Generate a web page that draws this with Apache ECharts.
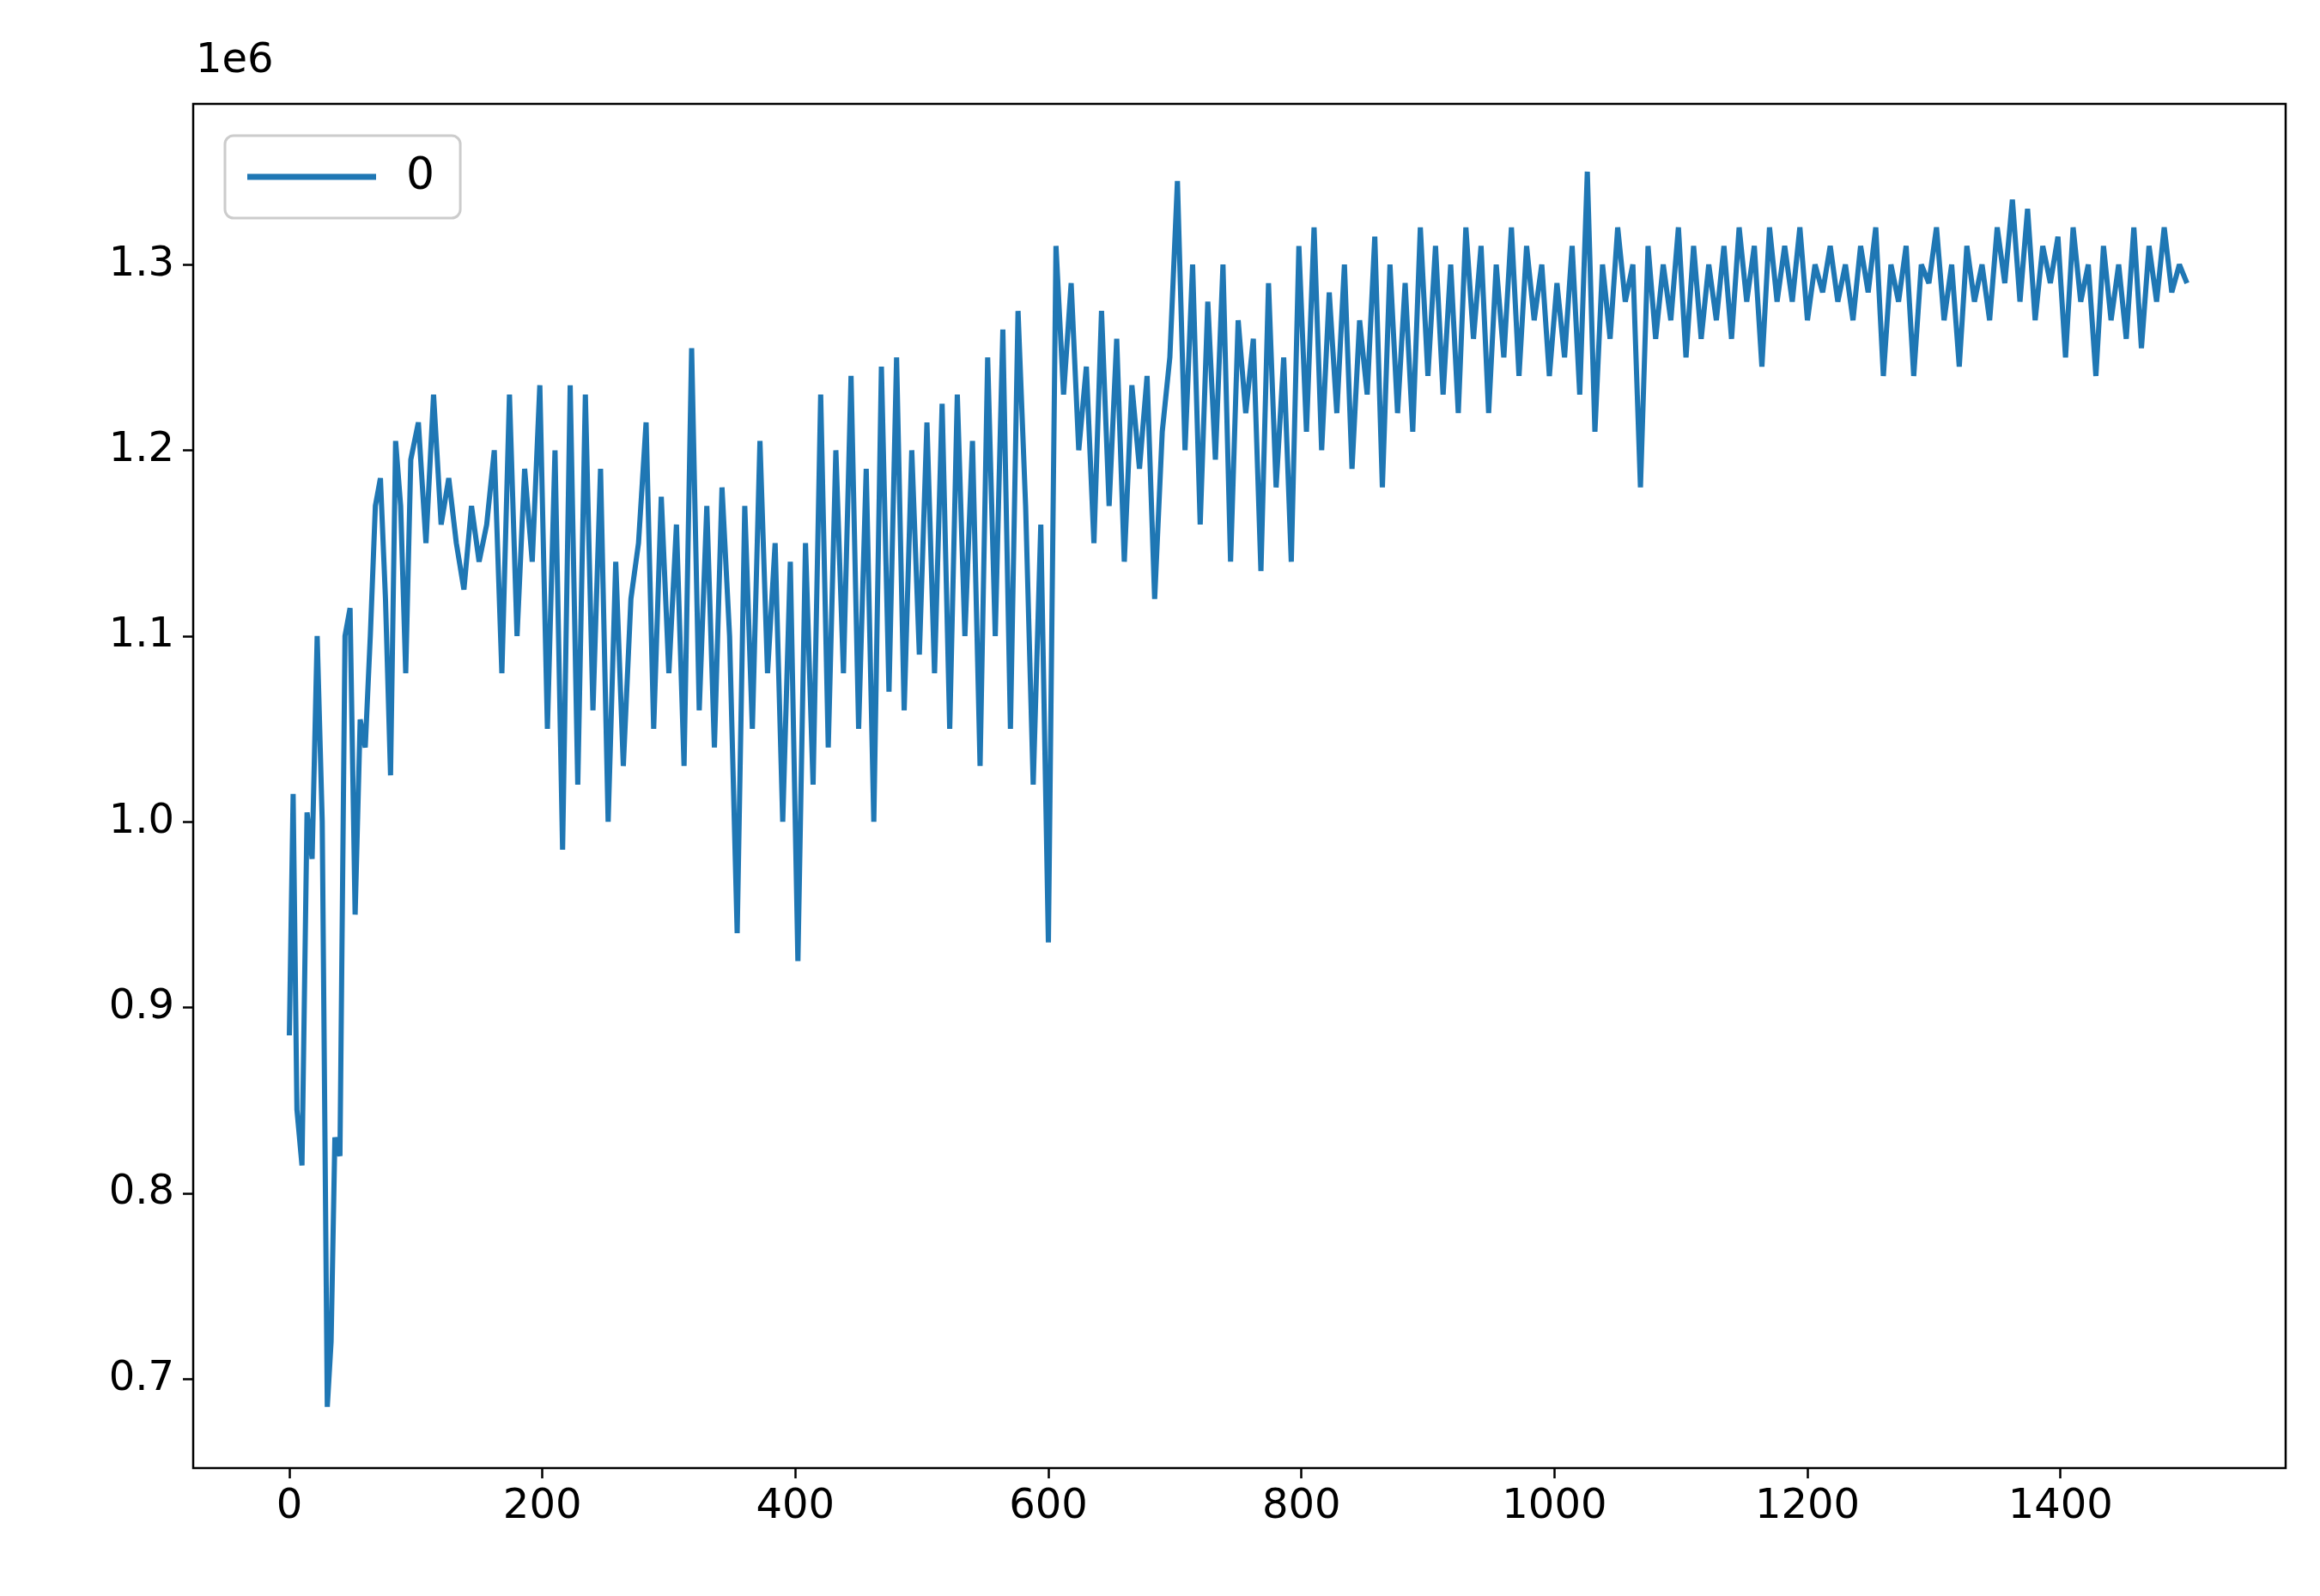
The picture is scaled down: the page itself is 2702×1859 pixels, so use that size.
<!DOCTYPE html>
<html>
<head>
<meta charset="utf-8">
<script src="https://cdn.jsdelivr.net/npm/echarts@6/dist/echarts.min.js"></script>
<style>html,body{margin:0;padding:0;background:#fff}#chart{width:2702px;height:1859px}</style>
</head>
<body>
<div id="chart"></div>
<script>
// early part, irregular sample points
const earlyX = [0,3,6,10,14,18,22,26,30,33,36,40,44,48,52,56,60,64,68,72,76,80,84,88,92,96];
const earlyY = [885,1015,845,815,1005,980,1100,1000,685,720,830,820,1100,1115,950,1055,1040,1100,1170,1185,1120,1025,1205,1170,1080,1195];
// rest sampled every 6 steps from 102
const restStart = 102, restStep = 6;
const restY = [
1215,1150,1230,1160,1185,1150,1125,1170,1140,1160,
1200,1080,1230,1100,1190,1140,1235,1050,1200,985,
1235,1020,1230,1060,1190,1000,1140,1030,1120,1150,
1215,1050,1175,1080,1160,1030,1255,1060,1170,1040,
1180,1100,940,1170,1050,1205,1080,1150,1000,1140,
925,1150,1020,1230,1040,1200,1080,1240,1050,1190,
1000,1245,1070,1250,1060,1200,1090,1215,1080,1225,
1050,1230,1100,1205,1030,1250,1100,1265,1050,1275,
1170,1020,1160,935,1310,1230,1290,1200,1245,1150,
1275,1170,1260,1140,1235,1190,1240,1120,1210,1250,
1345,1200,1300,1160,1280,1195,1300,1140,1270,1220,
1260,1135,1290,1180,1250,1140,1310,1210,1320,1200,
1285,1220,1300,1190,1270,1230,1315,1180,1300,1220,
1290,1210,1320,1240,1310,1230,1300,1220,1320,1260,
1310,1220,1300,1250,1320,1240,1310,1270,1300,1240,
1290,1250,1310,1230,1350,1210,1300,1260,1320,1280,
1300,1180,1310,1260,1300,1270,1320,1250,1310,1260,
1300,1270,1310,1260,1320,1280,1310,1245,1320,1280,
1310,1280,1320,1270,1300,1285,1310,1280,1300,1270,
1310,1285,1320,1240,1300,1280,1310,1240,1300,1290,
1320,1270,1300,1245,1310,1280,1300,1270,1320,1290,
1335,1280,1330,1270,1310,1290,1315,1250,1320,1280,
1300,1240,1310,1270,1300,1260,1320,1255,1310,1280,
1320,1285,1300,1290
];
const xTicks = [0,200,400,600,800,1000,1200,1400];
const yTicks = [0.7,0.8,0.9,1.0,1.1,1.2,1.3];

const data = earlyX.map((x, i) => [x, earlyY[i] / 1000]);
restY.forEach((v, i) => data.push([restStart + i * restStep, v / 1000]));

const font = {fontFamily: 'DejaVu Sans', fontSize: 48, color: '#000'};
const tick = {show: true, length: 12, lineStyle: {color: '#000', width: 2.5}};
const chart = echarts.init(document.getElementById('chart'));
chart.setOption({
  animation: false,
  grid: {left: 225, right: 40, top: 121, bottom: 149, show: true, borderColor: '#000', borderWidth: 2.5},
  legend: {
    data: ['0'], left: 262, top: 158, orient: 'vertical',
    itemWidth: 150, itemHeight: 7, itemGap: 10,
    textStyle: {fontFamily: 'DejaVu Sans', fontSize: 52, color: '#000', padding: [0, 0, 0, 30]},
    borderColor: '#ccc', borderWidth: 3, borderRadius: 10, padding: [22, 30, 22, 26],
    icon: 'rect'
  },
  graphic: [{type: 'text', left: 228, top: 48, style: {text: '1e6', font: '48px "DejaVu Sans"', fill: '#000'}}],
  xAxis: {
    type: 'value', min: -76, max: 1578,
    axisLine: {show: false, onZero: false},
    splitLine: {show: false},
    axisTick: Object.assign({customValues: xTicks}, tick),
    axisLabel: Object.assign({margin: 22, customValues: xTicks, formatter: v => String(v)}, font)
  },
  yAxis: {
    type: 'value', min: 0.652, max: 1.3865,
    axisLine: {show: false, onZero: false},
    splitLine: {show: false},
    axisTick: Object.assign({customValues: yTicks}, tick),
    axisLabel: Object.assign({margin: 22, customValues: yTicks, formatter: v => v.toFixed(1)}, font)
  },
  series: [{
    name: '0', type: 'line', data: data, showSymbol: false,
    lineStyle: {color: '#1f77b4', width: 6}, itemStyle: {color: '#1f77b4'}
  }]
});
</script>
</body>
</html>
